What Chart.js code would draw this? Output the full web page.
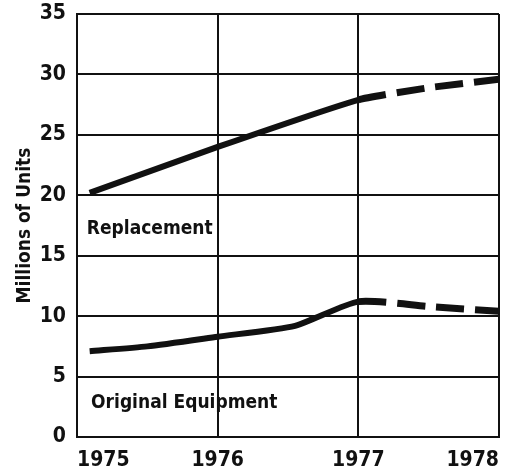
<!DOCTYPE html>
<html>
<head>
<meta charset="utf-8">
<script src="https://cdn.jsdelivr.net/npm/chart.js@4"></script>
<style>
  html, body { margin: 0; padding: 0; background: #fff; }
  #wrap { width: 514px; height: 476px; }
</style>
</head>
<body>
<div id="wrap"><canvas id="lineChart"></canvas></div>
<script>
const years = [1975, 1976, 1977, 1978];
const yTicks = [0, 5, 10, 15, 20, 25, 30, 35];

// x positions (years) and values in millions of units
const replacementX = [1975.09, 1976, 1977, 1977.5, 1978];
const replacementY = [20.2, 24.0, 27.9, 28.9, 29.6];
const originalX = [1975.09, 1975.5, 1976, 1976.55, 1977, 1977.5, 1978];
const originalY = [7.1, 7.5, 8.3, 9.2, 11.2, 10.8, 10.4];

const FONT = "'DejaVu Sans Condensed', 'DejaVu Sans', sans-serif";

function toPoints(xs, ys) {
    return xs.map((x, i) => ({ x: x, y: ys[i] }));
}

const dashAfter1977 = {
    borderDash: ctx => ctx.p0.parsed.x >= 1977 ? [28, 11] : undefined,
    borderWidth: ctx => ctx.p0.parsed.x >= 1977 ? 7 : 6
};

const seriesLabels = {
    id: 'seriesLabels',
    afterDraw(chart) {
        const { ctx, scales } = chart;
        ctx.save();
        ctx.fillStyle = '#111';
        ctx.font = "bold 19px " + FONT;
        ctx.textBaseline = 'middle';
        ctx.textAlign = 'left';
        ctx.fillText('Replacement', scales.x.getPixelForValue(1975.07), scales.y.getPixelForValue(17.2));
        ctx.fillText('Original Equipment', scales.x.getPixelForValue(1975.1), scales.y.getPixelForValue(2.8));
        ctx.restore();
    }
};

new Chart(document.getElementById('lineChart').getContext('2d'), {
    type: 'line',
    data: {
        datasets: [
            {
                label: 'Replacement',
                data: toPoints(replacementX, replacementY),
                borderColor: '#111',
                borderWidth: 6,
                pointRadius: 0,
                tension: 0.15,
                segment: dashAfter1977
            },
            {
                label: 'Original Equipment',
                data: toPoints(originalX, originalY),
                borderColor: '#111',
                borderWidth: 6,
                pointRadius: 0,
                tension: 0.2,
                segment: dashAfter1977
            }
        ]
    },
    options: {
        responsive: true,
        maintainAspectRatio: false,
        animation: false,
        layout: { padding: { top: 0, right: 15, left: 0, bottom: 0 } },
        plugins: {
            legend: { display: false },
            tooltip: { enabled: false }
        },
        scales: {
            x: {
                type: 'linear',
                min: 1975,
                max: 1978,
                afterBuildTicks: axis => { axis.ticks = years.map(v => ({ value: v })); },
                afterFit: axis => {
                    axis.height = 39;
                    axis.paddingLeft = 0;
                    axis.paddingRight = 0;
                },
                grid: { color: '#111', lineWidth: 2, drawTicks: false },
                border: { color: '#111', width: 2 },
                ticks: {
                    align: 'inner',
                    padding: 11,
                    color: '#111',
                    font: { family: FONT, size: 21, weight: 'bold' },
                    callback: v => String(v)
                }
            },
            y: {
                min: 0,
                max: 35,
                afterBuildTicks: axis => { axis.ticks = yTicks.map(v => ({ value: v })); },
                afterFit: axis => {
                    axis.width = 77;
                    axis.paddingTop = 14;
                    axis.paddingBottom = 0;
                },
                grid: { color: '#111', lineWidth: 2, drawTicks: false },
                border: { color: '#111', width: 2 },
                ticks: {
                    padding: 11,
                    color: '#111',
                    font: { family: FONT, size: 21, weight: 'bold' }
                },
                title: {
                    display: true,
                    text: 'Millions of Units',
                    color: '#111',
                    padding: { top: 14, bottom: 0 },
                    font: { family: FONT, size: 19, weight: 'bold' }
                }
            }
        }
    },
    plugins: [seriesLabels]
});
</script>
</body>
</html>
